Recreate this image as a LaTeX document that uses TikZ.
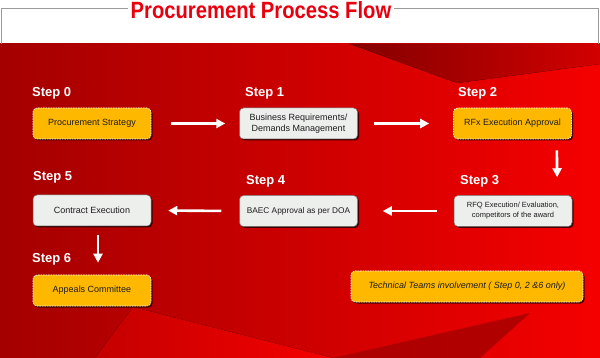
\documentclass[tikz,border=0pt]{standalone}
\usepackage{fontspec}
\setmainfont{Liberation Sans}
\usetikzlibrary{arrows.meta,positioning,shadows}
\definecolor{procred}{HTML}{E8000F}
\definecolor{bgdark}{HTML}{A40000}
\definecolor{bgmid}{HTML}{D20000}
\definecolor{bglight}{HTML}{F50000}
\definecolor{stepgold}{HTML}{FFB800}
\definecolor{boxgrey}{HTML}{EDEFED}
\definecolor{framegrey}{HTML}{9A9A9A}
\definecolor{boxtext}{HTML}{1C1C1C}

\begin{document}
\begin{tikzpicture}[x=1pt,y=-1pt,
    stepbox/.style={rectangle,rounded corners=4pt,minimum width=118pt,minimum height=31pt,
      text=boxtext,align=center,font=\fontsize{9}{11}\selectfont,
      drop shadow={shadow xshift=1.5pt,shadow yshift=-1.5pt,fill=black!75!bgdark,opacity=0.85}},
    goldbox/.style={stepbox,fill=stepgold,draw=white,line width=0.6pt,dash pattern=on 1.5pt off 1pt},
    greybox/.style={stepbox,fill=boxgrey,draw=black!55,line width=0.5pt},
    steplabel/.style={anchor=base west,inner sep=0pt,text=white,font=\bfseries\fontsize{13}{15}\selectfont},
    flow/.style={draw=white,line width=2.6pt,-{Triangle[length=9pt,width=9pt]}}]
  \useasboundingbox (0,0) rectangle (600,358);
  \fill[white] (0,0) rectangle (600,44);
  % red background
  \fill[left color=bgdark,middle color=bgmid,right color=bglight] (0,44) rectangle (600,358);
  \fill[left color=bgdark!80!black,right color=bgmid] (350,44) -- (600,44) -- (600,64) -- (457,83) -- cycle;
  \fill[left color=bgmid!70!bgdark,right color=bglight] (133,307) -- (333,358) -- (95,358) -- cycle;
  \fill[bgdark,opacity=0.8] (333,358) -- (530,313) -- (480,358) -- cycle;
  % frame and title
  \draw[framegrey,line width=0.8pt] (1,44) -- (1,8) -- (598,8) -- (598,44);
  \node[fill=white,inner xsep=3pt,inner ysep=1pt,anchor=base,text=procred,
    font=\bfseries\fontsize{23.5}{26}\selectfont] (title) at (261,18.5)
    {\scalebox{0.86}[1]{Procurement Process Flow}};

  \node[steplabel] (l0) at (32,97) {Step 0};
  \node[steplabel] (l1) at (245,97) {Step 1};
  \node[steplabel] (l2) at (458,97) {Step 2};
  \node[steplabel] (l3) at (460,185) {Step 3};
  \node[steplabel] (l4) at (246,185) {Step 4};
  \node[steplabel] (l5) at (33,181) {Step 5};
  \node[steplabel] (l6) at (32,262) {Step 6};

  \node[goldbox] (s0) at (92,123.5) {Procurement Strategy};
  \node[greybox] (s1) at (298.5,123.5) {Business Requirements/\\Demands Management};
  \node[goldbox] (s2) at (512.5,123.5) {RFx Execution Approval};
  \node[greybox,font=\fontsize{7.5}{10}\selectfont] (s3) at (513,211)
    {RFQ Execution/ Evaluation,\\competitors of the award};
  \node[greybox,font=\fontsize{8.3}{10}\selectfont] (s4) at (298.5,211) {BAEC Approval as per DOA};
  \node[greybox] (s5) at (92,210.5) {Contract Execution};
  \node[goldbox] (s6) at (92,290.5) {Appeals Committee};
  \node[goldbox,minimum width=232pt,font=\itshape\fontsize{9}{11}\selectfont] (tech) at (467,286.5)
    {Technical Teams involvement ( Step 0, 2 \&6 only)};

  \draw[flow,shorten <=20pt,shorten >=14pt] (s0.east) -- (s1.west);
  \draw[flow,shorten <=16pt,shorten >=24pt] (s1.east) -- (s2.west);
  \draw[flow,shorten <=11pt,shorten >=18pt] ([xshift=-15pt]s2.south east) -- ([xshift=-15pt]s3.north east);
  \draw[flow,shorten <=17pt,shorten >=25pt] (s3.west) -- (s4.east);
  \draw[flow,shorten <=18pt,shorten >=17pt] (s4.west) -- (s5.east);
  \draw[flow,shorten <=9pt,shorten >=12pt] ([xshift=6pt]s5.south) -- ([xshift=6pt]s6.north);
\end{tikzpicture}
\end{document}
